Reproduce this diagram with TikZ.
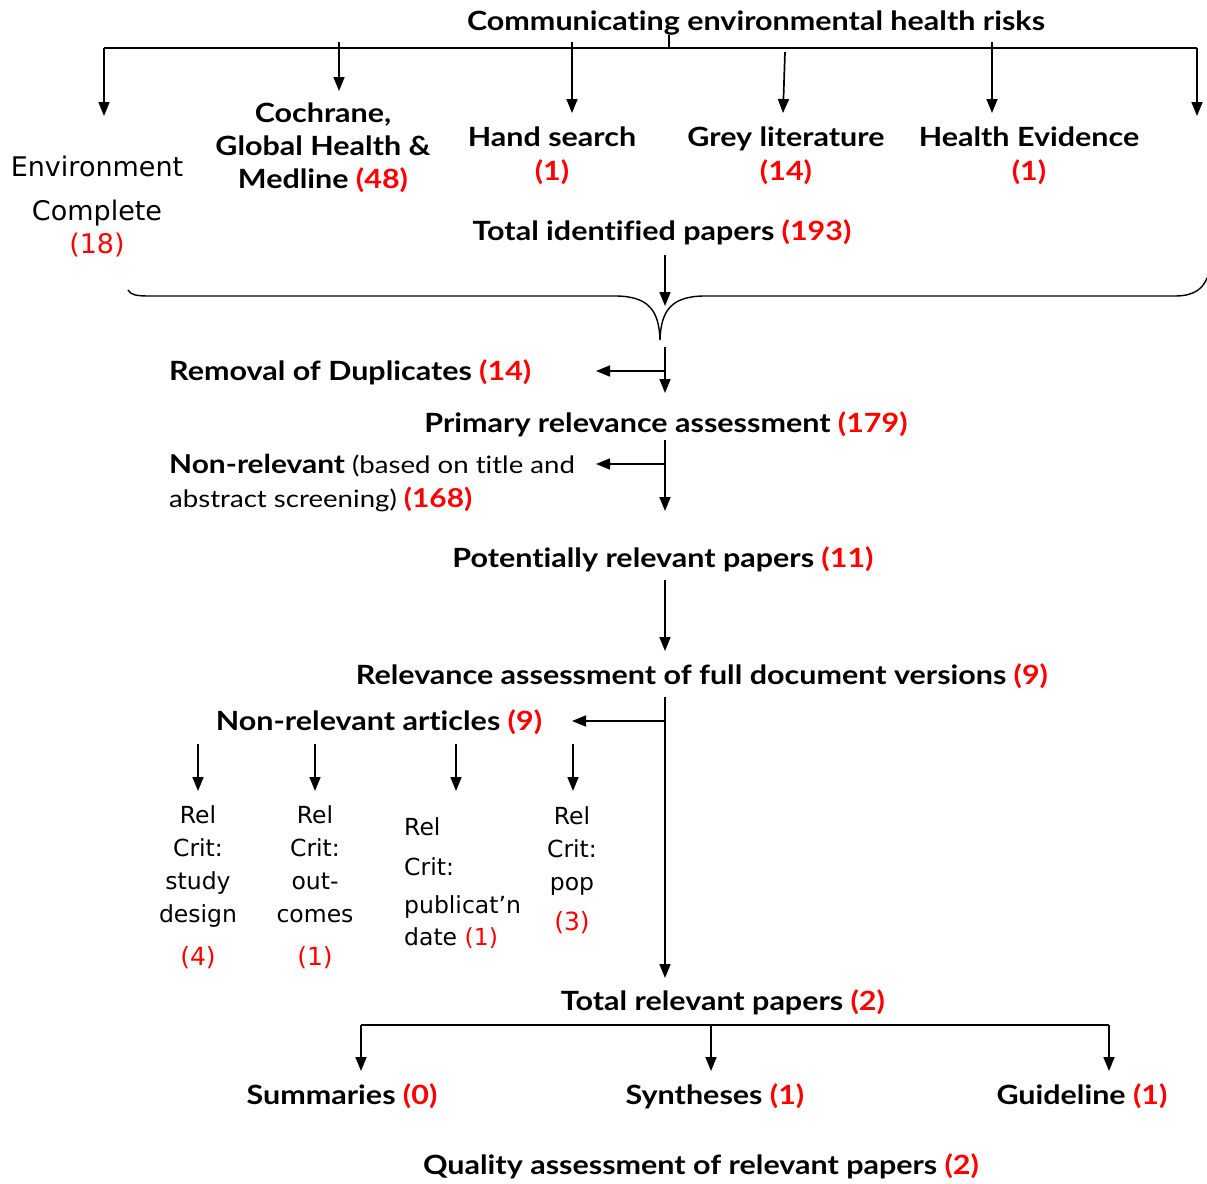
\documentclass[tikz,border=0pt]{standalone}
\usepackage{fontspec}
\setmainfont{Lato}[FakeStretch=1.15, RawFeature={-liga;-clig;-calt;-dlig}]
\newfontfamily\luc{DejaVu Sans}
\usetikzlibrary{arrows.meta}
\newcommand\rd[1]{\textcolor{red}{#1}}
\tikzset{
  ln/.style={line width=1.7pt},
  arr/.style={line width=1.7pt,-{Triangle[length=14pt,width=11pt]}},
  hd/.style={font=\fontsize{26.5}{33}\selectfont\bfseries, inner sep=0pt, align=center, anchor=base},
  lu/.style={font=\luc\fontsize{23.5}{33}\selectfont, inner sep=0pt, align=center, anchor=base},
}
\begin{document}
\begin{tikzpicture}[x=1pt,y=-1pt]
\useasboundingbox (0,0) rectangle (1207,1183);

% ---------- top level ----------
\node[hd] (title) at (756,30) {Communicating environmental health risks};
\coordinate (tj) at (669,48);
\coordinate (bl) at (104,48);
\coordinate (br) at (1197,48);
\draw[ln] (title.south -| tj) -- (tj);
\draw[ln] (bl) -- (br);

\node[lu, font=\luc\fontsize{27}{44}\selectfont] (env) at (97,253) {Environment\\Complete\\[-11pt]\rd{(18)}};
\node[hd] (coch) at (323,188) {Cochrane,\\Global Health \&\\Medline \rd{(48)}};
\node[hd, font=\fontsize{26.5}{34}\selectfont\bfseries] (hand) at (552,180) {Hand search\\\rd{(1)}};
\node[hd, font=\fontsize{26.5}{34}\selectfont\bfseries] (grey) at (786,180) {Grey literature\\\rd{(14)}};
\node[hd, font=\fontsize{26.5}{34}\selectfont\bfseries] (hev) at (1029,180) {Health Evidence\\\rd{(1)}};

\coordinate (a1) at (104,116);
\coordinate (a2t) at (339,42);  \coordinate (a2) at (339,91);
\coordinate (a3t) at (572,42);  \coordinate (a3) at (572,113);
\coordinate (a4t) at (785,52);  \coordinate (a4) at (783,113);
\coordinate (a5t) at (992,42);  \coordinate (a5) at (992,113);
\coordinate (a6) at (1197,116);
\draw[arr] (bl) -- (a1);
\draw[arr] (a2t) -- (a2);
\draw[arr] (a3t) -- (a3);
\draw[arr] (a4t) -- (a4);
\draw[arr] (a5t) -- (a5);
\draw[arr] (br) -- (a6);

\node[hd] (totid) at (662,240) {Total identified papers \rd{(193)}};
\coordinate (t1) at (665,255); \coordinate (t2) at (665,306);
\draw[arr] (t1) -- (t2);

% brace
\coordinate (tip) at (660,340);
\draw[line width=1.4pt] (128,290) .. controls (131,295) and (136,296) .. (150,296)
  -- (615,296) .. controls (650,296) and (659,312) .. (tip)
  .. controls (661,312) and (670,296) .. (705,296)
  -- (1175,296) .. controls (1195,296) and (1203,288) .. (1207,278);

% ---------- screening ----------
\coordinate (d1) at (665,347); \coordinate (d2) at (665,393);
\coordinate (d3) at (665,371); \coordinate (d4) at (596,371);
\draw[arr] (d1) -- (d2);
\draw[arr] (d3) -- (d4);
\node[hd, anchor=base west] (dup) at (169,380) {Removal of Duplicates \rd{(14)}};

\node[hd] (prim) at (666,432) {Primary relevance assessment \rd{(179)}};
\coordinate (p1) at (665,440); \coordinate (p2) at (665,511);
\coordinate (p3) at (665,464); \coordinate (p4) at (596,464);
\draw[arr] (p1) -- (p2);
\draw[arr] (p3) -- (p4);
\node[font=\fontsize{24}{34}\selectfont, inner sep=0pt, align=left, anchor=base west] (nonrel) at (169,507)
  {{\fontsize{26}{34}\selectfont\bfseries Non-relevant} (based on title and\\abstract screening) {\fontsize{26}{34}\selectfont\bfseries\rd{(168)}}};

\node[hd] (pot) at (663,567) {Potentially relevant papers \rd{(11)}};
\coordinate (q1) at (665,580); \coordinate (q2) at (665,651);
\draw[arr] (q1) -- (q2);

\node[hd] (full) at (702,684) {Relevance assessment of full document versions \rd{(9)}};
\coordinate (f1) at (665,697); \coordinate (f2) at (665,978);
\coordinate (f3) at (665,721); \coordinate (f4) at (572,721);
\draw[arr] (f1) -- (f2);
\draw[arr] (f3) -- (f4);

\node[hd] (nra) at (379,730) {Non-relevant articles \rd{(9)}};
\foreach \x/\n in {198/r1,315/r2,456/r3,573/r4}{
  \coordinate (\n t) at (\x,744);
  \coordinate (\n b) at (\x,791);
  \draw[arr] (\n t) -- (\n b);
}
\node[lu] (c1) at (198,965) {Rel\\Crit:\\study\\design\\[10pt]{\fontsize{25}{33}\selectfont\rd{(4)}}};
\node[lu] (c2) at (315,965) {Rel\\Crit:\\out-\\comes\\[10pt]{\fontsize{25}{33}\selectfont\rd{(1)}}};
\node[lu, align=left, anchor=base west, font=\luc\fontsize{23.5}{38}\selectfont] (c3) at (404,945) {Rel\\[2pt]Crit:\\publicat’n\\[-6pt]date \rd{(1)}};
\node[lu] (c4) at (572,930) {Rel\\Crit:\\pop\\[7pt]{\fontsize{25}{33}\selectfont\rd{(3)}}};

% ---------- result ----------
\node[hd] (totrel) at (723,1010) {Total relevant papers \rd{(2)}};
\coordinate (h1) at (361,1025); \coordinate (h2) at (711,1025); \coordinate (h3) at (1109,1025);
\coordinate (h1b) at (361,1071); \coordinate (h2b) at (711,1071); \coordinate (h3b) at (1109,1071);
\draw[ln] (h1) -- (h3);
\draw[arr] (h1) -- (h1b);
\draw[arr] (h2) -- (h2b);
\draw[arr] (h3) -- (h3b);

\node[hd] (sum) at (342,1104) {Summaries \rd{(0)}};
\node[hd] (syn) at (715,1104) {Syntheses \rd{(1)}};
\node[hd] (gui) at (1082,1104) {Guideline \rd{(1)}};

\node[hd] (qual) at (701,1174) {Quality assessment of relevant papers \rd{(2)}};
\end{tikzpicture}
\end{document}
